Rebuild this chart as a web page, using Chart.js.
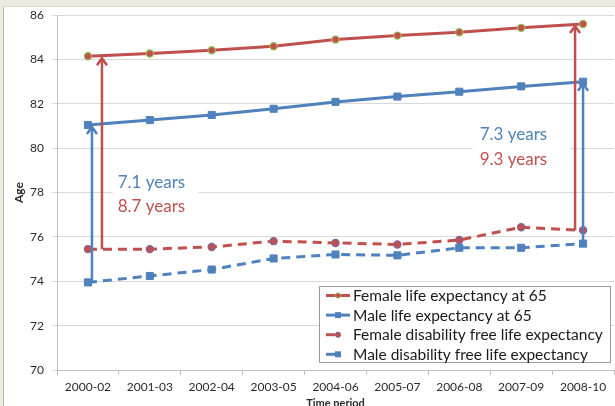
<!DOCTYPE html>
<html>
<head>
<meta charset="utf-8">
<script src="https://cdn.jsdelivr.net/npm/chart.js@4/dist/chart.umd.min.js"></script>
<style>
  html, body { margin: 0; padding: 0; overflow: hidden; background: #ffffff; }
  #chart { position: absolute; left: 0; top: 0; }
</style>
</head>
<body>
<canvas id="chart" width="620" height="412"></canvas>
<script>
// Life expectancy at 65 and disability free life expectancy, by sex
const periods = ['2000-02', '2001-03', '2002-04', '2003-05', '2004-06', '2005-07', '2006-08', '2007-09', '2008-10'];
const femaleLE   = [84.15, 84.27, 84.42, 84.60, 84.90, 85.08, 85.23, 85.43, 85.60];
const maleLE     = [81.05, 81.27, 81.50, 81.78, 82.09, 82.33, 82.55, 82.79, 83.00];
const femaleDFLE = [75.45, 75.45, 75.55, 75.81, 75.73, 75.66, 75.86, 76.44, 76.30];
const maleDFLE   = [73.95, 74.24, 74.53, 75.03, 75.21, 75.17, 75.51, 75.51, 75.70];
const yTicks = { min: 70, max: 86, step: 2 };

const RED = '#C0504D', BLUE = '#4F81BD';
const FONT = 'Lato, "Liberation Sans", sans-serif';

// Gap arrows: years lived with disability, first and last period
const gaps = [
  { idx: 0, from: femaleDFLE, to: femaleLE, color: RED,  dx: 14 },
  { idx: 0, from: maleDFLE,   to: maleLE,   color: BLUE, dx: 4 },
  { idx: 8, from: femaleDFLE, to: femaleLE, color: RED,  dx: -8 },
  { idx: 8, from: maleDFLE,   to: maleLE,   color: BLUE, dx: 0 }
];

// Gap labels, placed in value space
const gapLabels = [
  { x: 0.48, ys: [78.44, 77.36], box: [-5, 86, 78.9, 76.9], items: [[maleLE, maleDFLE, 0, BLUE], [femaleLE, femaleDFLE, 0, RED]] },
  { x: 6.33, ys: [80.60, 79.48], box: [-7, 97, 81.1, 79.0], items: [[maleLE, maleDFLE, 8, BLUE], [femaleLE, femaleDFLE, 8, RED]] }
];

const framePlugin = {
  id: 'frame',
  beforeDraw(chart) {
    const c = chart.ctx;
    c.save();
    c.fillStyle = '#ffffff';
    c.fillRect(0, 0, chart.width, chart.height);
    c.restore();
  },
  afterDraw(chart) {
    const c = chart.ctx;
    c.save();
    c.fillStyle = '#ECE9DF';
    c.fillRect(0, 0, chart.width, 6);
    c.fillRect(0, 0, 3, chart.height);
    c.strokeStyle = '#B8B5AC';
    c.lineWidth = 1;
    c.beginPath();
    c.moveTo(3.5, 6); c.lineTo(3.5, chart.height);
    c.stroke();
    c.strokeStyle = '#DCD9CF';
    c.beginPath();
    c.moveTo(3, 6.5); c.lineTo(chart.width, 6.5);
    c.stroke();
    c.restore();
  }
};

const labelPlugin = {
  id: 'gapLabels',
  beforeDatasetsDraw(chart) {
    const c = chart.ctx, xs = chart.scales.x, ys = chart.scales.y;
    c.save();
    gapLabels.forEach(g => {
      const x = xs.getPixelForValue(g.x);
      const top = ys.getPixelForValue(g.box[2]), bottom = ys.getPixelForValue(g.box[3]);
      c.fillStyle = '#ffffff';
      c.fillRect(x + g.box[0], top, g.box[1], bottom - top);
      c.font = '17px ' + FONT;
      c.textAlign = 'left';
      c.textBaseline = 'middle';
      g.items.forEach((it, k) => {
        const [a, b, i, col] = it;
        c.fillStyle = col;
        c.fillText((a[i] - b[i]).toFixed(1) + ' years', x, ys.getPixelForValue(g.ys[k]));
      });
    });
    c.restore();
  }
};

const arrowPlugin = {
  id: 'gapArrows',
  afterDatasetsDraw(chart) {
    const c = chart.ctx, xs = chart.scales.x, ys = chart.scales.y;
    c.save();
    c.lineWidth = 2.5;
    c.lineCap = 'butt';
    c.lineJoin = 'miter';
    gaps.forEach(g => {
      const x = xs.getPixelForValue(g.idx) + g.dx;
      const y0 = ys.getPixelForValue(g.from[g.idx]);
      const y1 = ys.getPixelForValue(g.to[g.idx]) + 2;
      c.strokeStyle = g.color;
      c.beginPath();
      c.moveTo(x, y0); c.lineTo(x, y1);
      c.stroke();
      c.beginPath();
      c.moveTo(x - 5, y1 + 7); c.lineTo(x, y1); c.lineTo(x + 5, y1 + 7);
      c.stroke();
    });
    c.restore();
  }
};

const legendPlugin = {
  id: 'boxLegend',
  afterDraw(chart) {
    const c = chart.ctx, area = chart.chartArea;
    const right = area.right - 3, bottom = area.bottom - 7;
    const w = 292, h = 77, left = right - w, top = bottom - h;
    c.save();
    c.fillStyle = '#ffffff';
    c.fillRect(left, top, w, h);
    c.strokeStyle = '#9a9a9a';
    c.lineWidth = 1;
    c.strokeRect(left + 0.5, top + 0.5, w - 1, h - 1);
    c.font = '15.5px ' + FONT;
    c.textBaseline = 'middle';
    chart.data.datasets.forEach((ds, i) => {
      const y = top + 9.5 + i * 19.6;
      const x0 = left + 7, x1 = left + 31, xm = left + 19;
      c.strokeStyle = ds.borderColor;
      c.lineWidth = 3;
      c.setLineDash(ds.borderDash && ds.borderDash.length ? [9, 20] : []);
      c.beginPath();
      c.moveTo(x0, y); c.lineTo(x1, y);
      c.stroke();
      c.setLineDash([]);
      c.fillStyle = ds.pointBackgroundColor;
      c.strokeStyle = ds.pointBorderColor;
      c.lineWidth = 1;
      if (ds.pointStyle === 'rect') {
        c.fillRect(xm - 3, y - 3, 6, 6);
      } else {
        c.beginPath();
        c.arc(xm, y, 2.6, 0, Math.PI * 2);
        c.fill();
        c.stroke();
      }
      c.fillStyle = '#1a1a1a';
      c.fillText(ds.label, left + 34, y + 0.5);
    });
    c.restore();
  }
};

function build() {
  Chart.defaults.font.family = FONT;
  Chart.defaults.color = '#2b2b2b';
  new Chart(document.getElementById('chart'), {
    type: 'line',
    data: {
      labels: periods,
      datasets: [
        { label: 'Female life expectancy at 65', data: femaleLE, borderColor: RED, borderWidth: 3,
          pointStyle: 'circle', pointRadius: 3.6, pointBackgroundColor: RED, pointBorderColor: '#9BBB59', pointBorderWidth: 1.2 },
        { label: 'Male life expectancy at 65', data: maleLE, borderColor: BLUE, borderWidth: 3,
          pointStyle: 'rect', pointRadius: 5, pointBackgroundColor: BLUE, pointBorderColor: BLUE, pointBorderWidth: 1 },
        { label: 'Female disability free life expectancy', data: femaleDFLE, borderColor: RED, borderWidth: 3, borderDash: [9, 6],
          pointStyle: 'circle', pointRadius: 3.6, pointBackgroundColor: RED, pointBorderColor: '#8064A2', pointBorderWidth: 1.2 },
        { label: 'Male disability free life expectancy', data: maleDFLE, borderColor: BLUE, borderWidth: 3, borderDash: [9, 6],
          pointStyle: 'rect', pointRadius: 5, pointBackgroundColor: BLUE, pointBorderColor: BLUE, pointBorderWidth: 1 }
      ]
    },
    options: {
      responsive: false,
      animation: false,
      devicePixelRatio: 1,
      layout: { padding: { left: 0, top: 15, right: 4, bottom: 0 } },
      elements: { line: { tension: 0 } },
      plugins: { legend: { display: false }, tooltip: { enabled: false } },
      scales: {
        x: {
          offset: true,
          grid: { drawOnChartArea: false, drawTicks: true, tickLength: 5, offset: true, color: '#bfbfbf' },
          border: { display: true, color: '#bfbfbf' },
          ticks: { font: { size: 12 }, padding: 5, maxRotation: 0, autoSkip: false },
          title: { display: true, text: 'Time period', font: { size: 11, weight: 'bold' }, padding: { top: 0, bottom: 2 } },
          afterFit(s) { s.height = 42; }
        },
        y: {
          min: yTicks.min, max: yTicks.max,
          grid: { color: '#d9d9d9', tickLength: 5 },
          border: { display: true, color: '#bfbfbf' },
          ticks: { stepSize: yTicks.step, font: { size: 12 }, padding: 8 },
          title: { display: true, text: 'Age', font: { size: 12, weight: 'bold' }, padding: { top: 12, bottom: 0 } },
          afterFit(s) { s.width = 57; }
        }
      }
    },
    plugins: [framePlugin, labelPlugin, arrowPlugin, legendPlugin]
  });
}

if (document.fonts && document.fonts.load) {
  Promise.all([document.fonts.load('12px Lato'), document.fonts.load('bold 11px Lato')]).then(build, build);
} else {
  build();
}
</script>
</body>
</html>
